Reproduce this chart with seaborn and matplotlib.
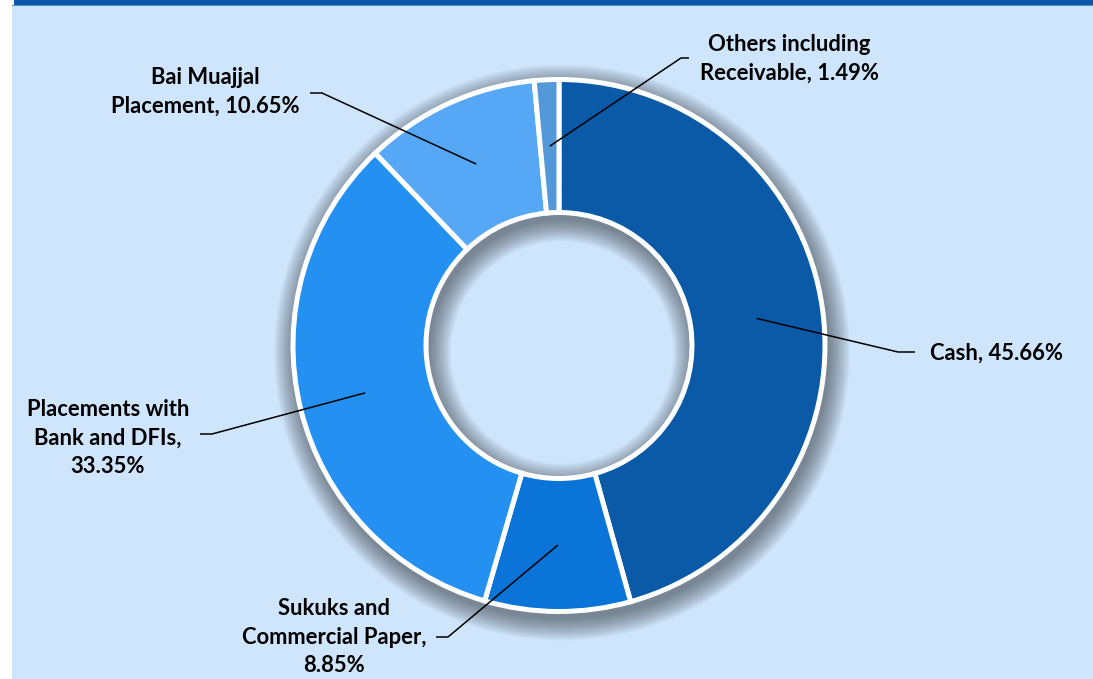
import numpy as np
import matplotlib
matplotlib.use("Agg")
import matplotlib.pyplot as plt
from matplotlib.patches import Rectangle, Wedge
import seaborn as sns

# Portfolio composition
categories = ["Cash", "Sukuks and\nCommercial Paper", "Placements with\nBank and DFIs",
              "Bai Muajjal\nPlacement", "Others including\nReceivable"]
shares = [45.66, 8.85, 33.35, 10.65, 1.49]
label_texts = ["Cash, 45.66%", "Sukuks and\nCommercial Paper,\n8.85%",
               "Placements with\nBank and DFIs,\n33.35%", "Bai Muajjal\nPlacement, 10.65%",
               "Others including\nReceivable, 1.49%"]
slice_colors = ["#0a5aa8", "#0b74d8", "#2490f2", "#56a7f6", "#5398d8"]

sns.set_theme(style="white")
plt.rcParams["font.family"] = ["Lato", "DejaVu Sans"]

W, H = 1093, 679
BG = "#cfe5fb"
fig = plt.figure(figsize=(W / 100, H / 100), dpi=100, facecolor="white")
ax = fig.add_axes([0, 0, 1, 1])
ax.set_facecolor("white")

# Panel background and top band
ax.add_patch(Rectangle((12, 0), W - 12, H - 5, facecolor=BG, edgecolor="none", zorder=0))
ax.add_patch(Rectangle((14, H - 5), W - 14, 5, facecolor="#0a59aa", edgecolor="none", zorder=0.1))
ax.add_patch(Rectangle((12, H - 6), W - 12, 1.2, facecolor="#4a8fd0", edgecolor="none", zorder=0.1))

# Donut geometry (axes units are pixels)
cx, cy = 559, H - 345.5
R_out, ring_w = 266, 133
R_in = R_out - ring_w

# Soft drop shadow: stacked translucent annuli, offset down-right
n_layers, spread = 24, 22.0
for k in range(n_layers):
    d = spread * (k + 1) / n_layers
    outer = R_out + d
    inner = max(R_in - d, 1)
    ax.add_patch(Wedge((cx + 3, cy - 7), outer, 0, 360, width=outer - inner,
                       facecolor="#30343a", edgecolor="none", alpha=0.026, zorder=1))

wedges, _ = ax.pie(shares, colors=slice_colors, startangle=90, counterclock=False,
                   radius=R_out, center=(cx, cy),
                   wedgeprops=dict(width=ring_w, edgecolor="white", linewidth=3.6))
for w in wedges:
    w.set_zorder(2)

# Label layout: text centre and leader elbow (pixels from top-left)
text_pos = [(997, 353), (334, 637), (108, 438), (205, 92), (789, 59)]
elbows = [[(898, 352), (915, 352)],
          [(448, 637), (436, 637)],
          [(212, 434), (200, 434)],
          [(322, 93), (310, 93)],
          [(681, 58), (689, 58)]]

for w, txt, tp, elb in zip(wedges, label_texts, text_pos, elbows):
    mid = np.deg2rad((w.theta1 + w.theta2) / 2)
    rm = R_out - ring_w / 2
    px, py = cx + rm * np.cos(mid), cy + rm * np.sin(mid)
    xs = [px] + [e[0] for e in elb]
    ys = [py] + [H - e[1] for e in elb]
    ax.plot(xs, ys, color="black", lw=1.1, zorder=3, solid_capstyle="butt")
    ax.text(tp[0], H - tp[1], txt, ha="center", va="center", fontsize=15.8,
            fontweight="bold", color="black", linespacing=1.45, zorder=4)

ax.set_xlim(0, W)
ax.set_ylim(0, H)
ax.set_aspect("equal")
ax.axis("off")
fig.savefig("out.png", dpi=100, facecolor="white")
